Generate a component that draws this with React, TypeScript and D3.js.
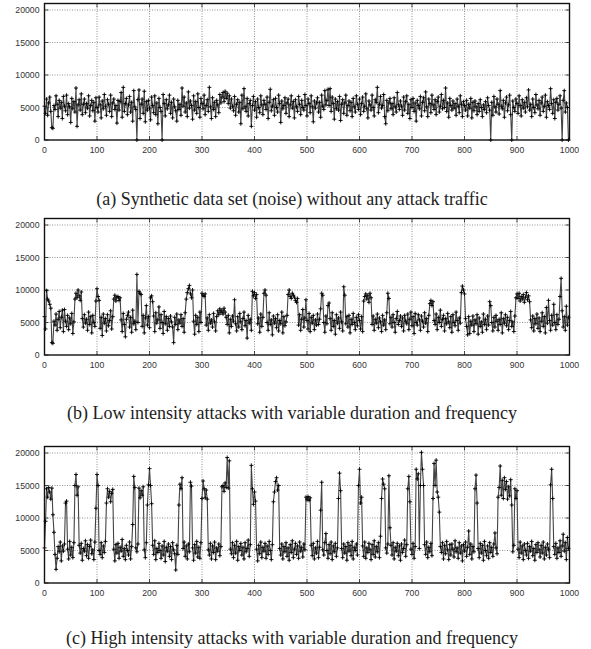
import React from "react";
import * as d3 from "d3";

// ---------- data ----------
const X_TICKS = [0, 100, 200, 300, 400, 500, 600, 700, 800, 900, 1000];
const Y_TICKS = [0, 5000, 10000, 15000, 20000];
const X_STEP = 2; // sample spacing along the x axis

const CAPTIONS = [
  "(a) Synthetic data set (noise) without any attack traffic",
  "(b) Low intensity attacks with variable duration and frequency",
  "(c) High intensity attacks with variable duration and frequency",
];

const NOISE_ONLY = [
  5200, 4100, 6300, 3800, 5700, 6600, 4400, 1900, 1800, 5300,
  4700, 6800, 5500, 3600, 6100, 4900, 5800, 3300, 6700, 5200,
  4500, 6900, 3900, 5600, 5100, 2700, 6400, 4800, 5900, 4300,
  8000, 2100, 5400, 6200, 4600, 7100, 3900, 5500, 6300, 4200,
  5600, 4900, 6800, 3700, 5300, 6100, 4500, 5800, 2900, 6500,
  5000, 4300, 6600, 5400, 3400, 6000, 4800, 7000, 5200, 3800,
  6200, 5500, 4400, 6900, 3600, 5700, 6300, 4700, 5300, 2600,
  6100, 4600, 5900, 7300, 3500, 8100, 4400, 5600, 6400, 3900,
  5400, 6700, 4300, 5800, 2900, 7600, 5100, 4700, 0, 6200,
  7700, 3300, 5500, 6300, 4100, 7500, 2800, 5900, 4600, 6100,
  4900, 3100, 6600, 5300, 4200, 6800, 3900, 5700, 2500, 6400,
  5000, 4400, 0, 7000, 5600, 3700, 6200, 4800, 5400, 6900,
  4100, 5800, 3400, 6300, 5100, 4500, 2900, 6100, 4700, 5500,
  3800, 8000, 5200, 6600, 4300, 5700, 3600, 7400, 4900, 6000,
  5300, 3200, 6800, 4600, 5900, 4100, 7100, 5000, 3500, 6400,
  5600, 4800, 6900, 3900, 5300, 6200, 4400, 8100, 5100, 3300,
  6500, 4700, 5800, 3600, 6100, 5400, 4200, 7000, 5700, 6600,
  7300, 5900, 7500, 6400, 7200, 5600, 6800, 4900, 6300, 5200,
  4500, 6700, 3800, 5500, 6200, 4300, 5800, 2500, 6900, 4800,
  7900, 5100, 4400, 6400, 3700, 5600, 6100, 2100, 5300, 6700,
  4600, 5900, 3500, 6300, 5000, 4200, 6800, 5400, 3900, 6100,
  5500, 4700, 6600, 3300, 5800, 7800, 4500, 5200, 6200, 3800,
  6400, 5000, 4300, 6900, 5600, 2700, 6000, 4800, 5300, 6500,
  4100, 5700, 6300, 3600, 5400, 6800, 4900, 5900, 3400, 6200,
  5100, 4400, 6700, 5500, 3900, 6100, 5000, 4600, 7000, 5300,
  3700, 6300, 5600, 4200, 6800, 5100, 2800, 6000, 4900, 5700,
  6500, 4300, 5800, 3500, 6900, 5200, 4700, 7600, 5400, 6100,
  7800, 5300, 7900, 4400, 6600, 5600, 3200, 6300, 4800, 5900,
  4600, 6700, 3000, 5500, 6200, 4100, 5700, 6900, 3800, 5300,
  6000, 4500, 5800, 3600, 6400, 5100, 4300, 6800, 5500, 4700,
  6300, 3900, 5600, 6600, 4400, 5200, 7100, 4800, 3400, 6000,
  5400, 4600, 6900, 5000, 3700, 6200, 5800, 8100, 4200, 5500,
  6700, 4900, 5300, 7000, 3600, 2500, 6100, 4500, 5700, 6400,
  4800, 5600, 3900, 6500, 5100, 4300, 7300, 5400, 4700, 6000,
  5200, 3800, 6600, 4600, 5900, 6800, 4100, 5500, 3300, 6200,
  5000, 6400, 4400, 5700, 2900, 6100, 5300, 4800, 6700, 3700,
  5800, 6500, 4500, 7400, 5100, 3600, 6300, 5600, 4200, 6900,
  5400, 4700, 6200, 3900, 5900, 6600, 4300, 5200, 7000, 4800,
  6100, 5000, 8000, 4400, 5700, 3500, 6400, 5300, 4600, 6000,
  4900, 5600, 3800, 6300, 5200, 4200, 6800, 5500, 3600, 5900,
  5300, 4600, 6100, 3700, 5500, 4900, 6400, 3400, 5800, 4500,
  6000, 5100, 3900, 5600, 4400, 6200, 5000, 3600, 5400, 4700,
  5900, 4200, 6500, 5300, 4600, 0, 5800, 3800, 6700, 5100,
  4300, 6300, 5500, 4000, 7600, 5200, 4800, 6100, 3500, 5700,
  6600, 4500, 5400, 6900, 3900, 0, 6000, 5000, 4400, 6300,
  5600, 4100, 6800, 5300, 3700, 6200, 4900, 5800, 4300, 6500,
  5100, 7700, 4600, 5500, 3600, 6300, 5000, 4200, 7000, 5400,
  4800, 6100, 3800, 5700, 6600, 4400, 5200, 6900, 3500, 5900,
  5300, 4700, 7900, 5600, 4100, 6200, 3300, 5800, 6400, 4600,
  5500, 6800, 4900, 0, 6100, 7600, 4300, 5700, 5000, 0,
];

const LOW_INTENSITY = [
  5900, 4000, 9900, 8600, 8300, 7800, 7200, 1900, 1800, 5200,
  4600, 6300, 3800, 5500, 6700, 4200, 5800, 6900, 3600, 7000,
  5200, 4400, 6100, 3900, 5700, 4800, 6400, 3300, 5100, 8600,
  9500, 8800, 10000, 9100, 8400, 9700, 5600, 4300, 6200, 4900,
  5500, 3800, 6600, 4700, 5900, 3400, 6100, 5000, 4400, 8300,
  10200, 9000, 8400, 4100, 5800, 3000, 6300, 4900, 5600, 3700,
  6200, 4500, 5300, 6800, 4000, 5900, 8600, 9200, 8300, 8900,
  9000, 8400, 8800, 5400, 3600, 6400, 4700, 2800, 5500, 6100,
  6600, 4300, 5800, 3500, 6900, 4800, 5200, 3900, 12400, 5000,
  9800, 9500, 9300, 4400, 6100, 3400, 5700, 7600, 4600, 5900,
  4200, 8800, 9100, 8200, 6000, 3600, 6500, 4900, 5400, 7400,
  4100, 6200, 5000, 3300, 6700, 4800, 5900, 3800, 5600, 4400,
  6000, 5100, 4300, 1900, 5800, 4700, 6300, 3900, 5400, 4900,
  6200, 4400, 5600, 3500, 6500, 8600, 9600, 10200, 10700, 9400,
  8800, 10000, 5200, 3200, 6100, 4700, 5800, 3600, 6600, 5000,
  9500, 9200, 9000, 9400, 4600, 5700, 3800, 6200, 4900, 5400,
  4300, 6400, 5100, 3700, 5900, 6800, 6200, 7100, 6500, 6900,
  6300, 7200, 6600, 5800, 4700, 6100, 3400, 5500, 4400, 6000,
  5200, 8500, 4800, 3700, 5900, 4300, 6400, 5100, 3900, 5600,
  6600, 4500, 5300, 2600, 6100, 4900, 5500, 3800, 9800, 9100,
  9600, 8700, 9300, 4800, 5700, 3500, 6300, 4400, 5800, 9500,
  10000, 9200, 5000, 3800, 6500, 4700, 5400, 3100, 6000, 4900,
  5600, 4200, 6200, 3700, 5300, 4800, 6600, 3400, 5900, 4500,
  5100, 6100, 9300, 10000, 9000, 8700, 9500, 9200, 8900, 8400,
  8100, 8700, 4600, 6200, 3800, 5500, 7000, 4300, 5700, 8500,
  5300, 4000, 6400, 3600, 5800, 4900, 6100, 3900, 5400, 4600,
  6300, 4700, 5500, 7100, 9500, 9200, 5000, 3500, 6000, 4800,
  7600, 8000, 5600, 3800, 6500, 4400, 5300, 3200, 6200, 4900,
  5700, 4100, 6600, 5100, 3700, 10500, 9200, 4800, 5900, 4300,
  6100, 3400, 5500, 4700, 6400, 5000, 3900, 5800, 4500, 6200,
  5300, 4000, 5900, 3600, 8300, 9000, 9400, 8600, 9200, 8100,
  9500, 8800, 4700, 6000, 3800, 5500, 4900, 6300, 4200, 5700,
  5100, 3600, 6100, 4600, 5400, 3900, 6500, 9500, 8700, 4800,
  5800, 4300, 6200, 5000, 3500, 5600, 6700, 4700, 5300, 6000,
  4400, 5700, 3700, 6100, 5200, 4800, 6300, 3900, 5500, 6600,
  4500, 5900, 3300, 6400, 5000, 4600, 6200, 5400, 3800, 6000,
  5200, 4300, 6500, 4900, 5600, 3600, 6100, 7900, 8400, 7600,
  8200, 5300, 4700, 6300, 3900, 5800, 5000, 6900, 4400, 5500,
  6100, 3700, 5600, 4800, 6400, 5100, 4200, 5900, 3500, 6200,
  5000, 4500, 6600, 5300, 3800, 5700, 4900, 9600, 10600, 10000,
  9400, 5600, 4400, 3100, 5900, 3300, 5200, 4600, 6000, 3600,
  5400, 4800, 6200, 3200, 5700, 4400, 5100, 3500, 6300, 4700,
  5500, 3900, 6000, 4600, 8200, 7600, 5000, 3700, 5800, 4300,
  6100, 5200, 3800, 5500, 4700, 6500, 3400, 5600, 4900, 6200,
  4500, 5800, 3900, 5300, 6700, 4400, 5100, 3600, 6000, 8800,
  9400, 8700, 9500, 8300, 9000, 8600, 9300, 8100, 8900, 9600,
  8500, 9100, 8200, 5400, 4200, 6000, 3700, 5600, 4800, 6300,
  4100, 5700, 3600, 5200, 6500, 4400, 5900, 3400, 7300, 4900,
  8400, 5300, 3800, 6100, 4600, 7800, 5000, 3900, 6200, 4700,
  5500, 9000, 11800, 6800, 4300, 5900, 3800, 7500, 4600, 5800,
];

const HIGH_INTENSITY = [
  5400, 9500, 14500, 13200, 14700, 14000, 12900, 14600, 10500, 7800,
  4400, 2100, 3800, 5600, 4800, 6300, 3400, 5700, 4900, 6000,
  12300, 12600, 5200, 3700, 6400, 4300, 5500, 3900, 6200, 15000,
  16700, 13500, 14800, 5800, 4600, 6100, 3500, 5300, 4900, 6500,
  4200, 5900, 3800, 5600, 6600, 4500, 5100, 3600, 6300, 11500,
  16700, 15000, 5000, 4400, 6200, 3900, 5700, 4700, 6400, 12300,
  14500, 13200, 14100, 12500, 13800, 14400, 5200, 3400, 5900, 4600,
  6100, 3800, 5500, 4900, 6700, 4100, 5300, 3600, 5800, 5000,
  4300, 6300, 3700, 5600, 9000, 16400, 14700, 5400, 4800, 6000,
  14600, 13100, 14200, 13500, 14800, 5100, 3900, 6200, 12000, 15100,
  17600, 15000, 12200, 5800, 4400, 6500, 3600, 5300, 4700, 6100,
  5000, 3800, 5700, 4300, 6400, 3300, 5500, 4900, 6000, 4100,
  5600, 3600, 6200, 5100, 4500, 2000, 5800, 4400, 12000, 15200,
  14500, 16200, 5300, 6300, 4100, 5700, 3700, 6000, 4800, 15500,
  14900, 5400, 3500, 5900, 4600, 6400, 4000, 5500, 3800, 6200,
  13000, 15700, 14500, 13100, 14300, 12900, 5100, 4300, 6100, 3700,
  5700, 4700, 6300, 3600, 5400, 4900, 6000, 4200, 5600, 14800,
  15000, 14100, 15400, 14700, 19300, 14600, 18800, 5200, 4500, 6200,
  3900, 5800, 4600, 6400, 3500, 5600, 5000, 6100, 4300, 5500,
  3700, 6200, 4800, 5300, 6600, 4100, 5900, 18100, 14500, 12100,
  14000, 12600, 5200, 3400, 5800, 4500, 6300, 3900, 5500, 4900,
  6100, 3800, 5700, 4400, 6400, 5000, 3600, 5900, 12500, 14000,
  15600, 16200, 14300, 15000, 5300, 4300, 6000, 3700, 5600, 4800,
  6200, 4100, 5400, 3500, 5900, 4700, 6500, 3900, 5200, 6100,
  4400, 5700, 3800, 6300, 4900, 5500, 4000, 6000, 5100, 13200,
  12800, 13300, 12700, 13100, 5800, 4200, 6100, 3700, 5400, 4600,
  6400, 3900, 5500, 11200, 15500, 5100, 4300, 6200, 7600, 5000,
  3800, 5900, 4500, 6300, 3600, 5700, 4800, 6100, 4100, 5400,
  13000, 16900, 14200, 5300, 3900, 6000, 4600, 5600, 3500, 6200,
  4900, 5800, 4200, 6400, 3700, 5500, 5000, 6000, 4300, 15000,
  17500, 12300, 13200, 5700, 4100, 6300, 3800, 5400, 4700, 6100,
  5100, 3600, 5900, 4400, 6500, 4000, 5600, 4800, 6200, 3900,
  7200, 13000, 16000, 15200, 14500, 5400, 4600, 6000, 16500, 8500,
  5800, 4300, 6200, 3700, 5500, 4900, 6100, 4200, 5700, 3500,
  6000, 4700, 5300, 6600, 4100, 5900, 14500, 16400, 12500, 5200,
  4400, 6100, 3800, 5600, 17500, 16000, 16800, 5300, 15000, 20100,
  17500, 15000, 5900, 4400, 6300, 3900, 5500, 4800, 6100, 4200,
  13000, 18400, 15000, 18900, 14000, 13200, 10900, 5600, 4700, 6200,
  3700, 5800, 4500, 6400, 5100, 3600, 5900, 4300, 6000, 5200,
  4000, 6500, 4800, 5400, 3800, 6200, 4600, 5700, 3400, 5900,
  4900, 6300, 4100, 5500, 8000, 4400, 6000, 3700, 5600, 4800,
  14500, 16600, 12300, 5300, 3900, 6100, 4600, 5800, 3500, 6400,
  5000, 4200, 5700, 3800, 6200, 4700, 5500, 4100, 6000, 7700,
  5400, 4500, 13200, 14700, 18000, 13500, 15800, 13000, 16200, 14400,
  15600, 12900, 14800, 13400, 15900, 12000, 4800, 5800, 14500, 13000,
  14200, 5200, 3900, 6300, 4600, 5700, 3600, 6000, 5000, 4300,
  6100, 3800, 5600, 4900, 6400, 4200, 5300, 3500, 5900, 4700,
  6200, 5100, 4000, 5800, 4600, 6300, 3700, 5500, 4300, 6000,
  5200, 3900, 15100, 17500, 13000, 5600, 4400, 6100, 3800, 5400,
  4700, 6500, 4100, 5700, 7500, 4900, 6200, 3600, 7000, 5300,
];

// ---------- layout ----------
const W = 591;
const H = 649;
const PLOT_LEFT = 44.5;
const PLOT_RIGHT = 569.5;
const Y_MAX = 21000;
const PLOT_H = 136.5; // pixel height of [0, Y_MAX]

const PANELS = [
  { values: NOISE_ONLY, zeroY: 140, caption: CAPTIONS[0], captionY: 205 },
  { values: LOW_INTENSITY, zeroY: 355, caption: CAPTIONS[1], captionY: 419 },
  { values: HIGH_INTENSITY, zeroY: 583, caption: CAPTIONS[2], captionY: 644 },
];

const TICK_FONT = "'Liberation Sans', Arial, sans-serif";
const CAPTION_FONT = "'Liberation Serif', 'Times New Roman', serif";

function Panel({ values, zeroY, caption, captionY }: { values: number[]; zeroY: number; caption: string; captionY: number }) {
  const x = d3.scaleLinear().domain([0, 1000]).range([PLOT_LEFT, PLOT_RIGHT]);
  const y = d3.scaleLinear().domain([0, Y_MAX]).range([zeroY, zeroY - PLOT_H]);
  const top = y(Y_MAX);

  const line = d3
    .line<number>()
    .x((_, i) => x(i * X_STEP))
    .y((d) => y(d));

  const s = 2;
  let marks = "";
  values.forEach((v, i) => {
    const px = x(i * X_STEP);
    const py = y(v);
    marks += `M${(px - s).toFixed(2)},${py.toFixed(2)}h${2 * s}M${px.toFixed(2)},${(py - s).toFixed(2)}v${2 * s}`;
  });

  return (
    <g>
      {/* grid */}
      {X_TICKS.slice(1, -1).map((t) => (
        <line key={"gx" + t} x1={x(t)} x2={x(t)} y1={top} y2={zeroY} stroke="#777" strokeWidth={0.8} strokeDasharray="1,1.5" />
      ))}
      {Y_TICKS.slice(1).map((t) => (
        <line key={"gy" + t} x1={PLOT_LEFT} x2={PLOT_RIGHT} y1={y(t)} y2={y(t)} stroke="#777" strokeWidth={0.8} strokeDasharray="1,1.5" />
      ))}
      {/* tick marks (inward, mirrored) */}
      {X_TICKS.map((t) => (
        <g key={"tx" + t}>
          <line x1={x(t)} x2={x(t)} y1={zeroY} y2={zeroY - 4} stroke="#222" strokeWidth={0.8} />
          <line x1={x(t)} x2={x(t)} y1={top} y2={top + 4} stroke="#222" strokeWidth={0.8} />
        </g>
      ))}
      {Y_TICKS.map((t) => (
        <g key={"ty" + t}>
          <line x1={PLOT_LEFT} x2={PLOT_LEFT + 4} y1={y(t)} y2={y(t)} stroke="#222" strokeWidth={0.8} />
          <line x1={PLOT_RIGHT} x2={PLOT_RIGHT - 4} y1={y(t)} y2={y(t)} stroke="#222" strokeWidth={0.8} />
        </g>
      ))}
      {/* series */}
      <path d={line(values) || ""} fill="none" stroke="#444" strokeWidth={1.1} strokeLinejoin="round" />
      <path d={marks} fill="none" stroke="#000" strokeWidth={0.9} />
      {/* border */}
      <rect x={PLOT_LEFT} y={top} width={PLOT_RIGHT - PLOT_LEFT} height={zeroY - top} fill="none" stroke="#111" strokeWidth={1.4} />
      {/* tick labels */}
      {X_TICKS.map((t) => (
        <text key={"lx" + t} x={x(t)} y={zeroY + 12.5} textAnchor="middle" fontFamily={TICK_FONT} fontSize={8.7} fill="#333">
          {t}
        </text>
      ))}
      {Y_TICKS.map((t) => (
        <text key={"ly" + t} x={PLOT_LEFT - 5} y={y(t) + 3} textAnchor="end" fontFamily={TICK_FONT} fontSize={8.7} fill="#333">
          {t}
        </text>
      ))}
      {/* caption */}
      <text x={292} y={captionY} textAnchor="middle" fontFamily={CAPTION_FONT} fontSize={18} fill="#222">
        {caption}
      </text>
    </g>
  );
}

export default function App() {
  return (
    <svg width={W} height={H} viewBox={`0 0 ${W} ${H}`} style={{ position: "absolute", left: 0, top: 0, background: "#fff" }}>
      <rect x={0} y={0} width={W} height={H} fill="#fff" />
      {PANELS.map((p, i) => (
        <Panel key={i} values={p.values} zeroY={p.zeroY} caption={p.caption} captionY={p.captionY} />
      ))}
    </svg>
  );
}
